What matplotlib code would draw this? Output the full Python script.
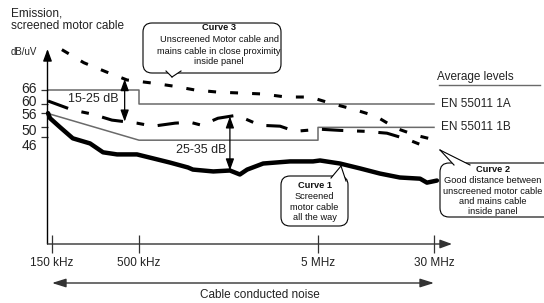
import numpy as np
import matplotlib
matplotlib.use("Agg")
import matplotlib.pyplot as plt
from matplotlib.patches import FancyBboxPatch, Polygon
from matplotlib.lines import Line2D
from matplotlib.transforms import IdentityTransform

plt.rcParams['font.family'] = ['Liberation Sans', 'DejaVu Sans']

# ---- data (frequency in MHz, level in dB/uV) ----
tick_mhz = [0.15, 0.5, 5, 30]
tick_labels = ['150 kHz', '500 kHz', '5 MHz', '30 MHz']
db_ticks = [66, 60, 56, 50, 46]

curve1_mhz = [0.142, 0.146, 0.168, 0.200, 0.254, 0.304, 0.369, 0.486, 0.599, 0.745,
              0.939, 1.00, 1.30, 1.61, 1.83, 2.01, 2.47, 3.49, 4.69, 5.16,
              7.02, 9.57, 13.0, 17.7, 24.2, 26.9, 31.4]
curve1_db = [56.1, 53.9, 50.0, 45.3, 43.1, 39.3, 38.4, 38.4, 36.7, 34.9,
             32.8, 31.9, 31.1, 31.5, 29.8, 31.9, 34.5, 35.4, 35.4, 35.8,
             34.5, 32.4, 30.2, 28.5, 28.0, 26.3, 27.2]

curve2_mhz = [0.142, 0.200, 0.261, 0.344, 0.486, 0.599, 0.795, 0.964, 1.12, 1.38,
              1.76, 2.37, 3.07, 3.72, 5.16, 7.02, 10.3, 14.5, 19.8, 28.2]
curve2_db = [61.3, 57.4, 55.7, 53.1, 51.8, 50.5, 51.8, 52.2, 50.9, 53.9,
             55.2, 50.9, 50.5, 48.3, 49.2, 48.7, 48.3, 47.5, 44.9, 41.0]

curve3_mhz = [0.172, 0.233, 0.317, 0.424, 0.591, 0.774, 1.03, 1.38, 1.86, 2.46,
              3.31, 4.51, 6.02, 8.59, 12.2, 16.7, 22.7, 31.4]
curve3_db = [83.3, 77.7, 73.8, 70.3, 69.0, 67.7, 66.0, 65.1, 64.7, 64.3,
             63.0, 63.0, 60.4, 57.8, 54.8, 49.6, 46.6, 44.4]

en_1a_mhz = [0.141, 0.5, 0.5, 30]
en_1a_db = [66, 66, 60, 60]
en_1b_mhz = [0.141, 0.5, 5, 5, 30]
en_1b_db = [56, 44.5, 44.5, 50, 50]

gap_a_mhz = 0.41   # 15-25 dB marker
gap_b_mhz = 1.61   # 25-35 dB marker

# ---- schematic frequency axis (not a true log scale) ----
W, H = 544, 303
tick_px = [52, 139, 318, 434]
la = np.log10(tick_mhz)
pa = np.array(tick_px, float)
la_ext = np.r_[la[0] - 3, la, la[-1] + 3]
pa_ext = np.r_[pa[0] - 3 * (pa[1] - pa[0]) / (la[1] - la[0]), pa,
               pa[-1] + 3 * (pa[-1] - pa[-2]) / (la[-1] - la[-2])]


def fwd(f):
    with np.errstate(divide='ignore', invalid='ignore'):
        lf = np.log10(np.asarray(f, float))
    return np.interp(lf, la_ext, pa_ext)


def inv(p):
    return 10 ** np.interp(np.asarray(p, float), pa_ext, la_ext)


fig = plt.figure(figsize=(W / 100, H / 100), dpi=100)
ax = fig.add_axes([47.5 / W, 1 - 244 / H, (452 - 47.5) / W, (244 - 49) / H])
ax.set_xscale('function', functions=(fwd, inv))
ax.set_xlim(inv(47.5), inv(452))
ax.set_ylim(0, (244 - 49) / 2.333)
for s in ax.spines.values():
    s.set_visible(False)

# axes with arrow heads
ax.annotate('', xy=(0, 1), xytext=(0, 0), xycoords='axes fraction',
            arrowprops=dict(arrowstyle='-|>,head_length=0.6,head_width=0.22',
                            color='black', lw=1.0, shrinkA=0, shrinkB=0, mutation_scale=12))
ax.annotate('', xy=(1, 0), xytext=(0, 0), xycoords='axes fraction',
            arrowprops=dict(arrowstyle='-|>,head_length=0.6,head_width=0.22',
                            color='#333333', lw=1.0, shrinkA=0, shrinkB=0, mutation_scale=12))

ax.set_xticks(tick_mhz)
ax.set_xticklabels(tick_labels)
ax.tick_params(axis='x', direction='inout', length=13, width=0.9, color='#333333',
               pad=2.5, labelsize=8.5, labelcolor='#222222')
ax.set_yticks(db_ticks)
ax.set_yticklabels([])
ax.tick_params(axis='y', direction='out', length=5, width=0.9, color='#333333')
label_shift = [0.7, 1.4, -1.4, -2.6, -7]
for v, dy in zip(db_ticks, label_shift):
    ax.annotate(str(v), xy=(0, v), xycoords=('axes fraction', 'data'),
                xytext=(-7.5, dy), textcoords='offset points',
                ha='right', va='center', fontsize=10, color='#222222')

# limit lines
grey = '#6a6a6a'
ax.plot(en_1a_mhz, en_1a_db, color=grey, lw=1.1, clip_on=False)
ax.plot(en_1b_mhz, en_1b_db, color=grey, lw=1.1, clip_on=False)
ax.annotate('EN 55011 1A', xy=(en_1a_mhz[-1], en_1a_db[-1]), xytext=(5, 0),
            textcoords='offset points', va='center', fontsize=8.5, color='#222222')
ax.annotate('EN 55011 1B', xy=(en_1b_mhz[-1], en_1b_db[-1]), xytext=(5, 0),
            textcoords='offset points', va='center', fontsize=8.5, color='#222222')

# curves
ax.plot(curve1_mhz, curve1_db, color='black', lw=3.2, solid_joinstyle='round',
        solid_capstyle='round', clip_on=False)
ax.plot(curve2_mhz, curve2_db, color='black', lw=2.2, dashes=(7, 4.5, 2.5, 4.5),
        clip_on=False)
ax.plot(curve3_mhz, curve3_db, color='black', lw=2.2, dashes=(2.6, 4.6),
        clip_on=False)

# gap markers
lg3 = np.log10(curve3_mhz)
lg2 = np.log10(curve2_mhz)
lg1 = np.log10(curve1_mhz)
a_top = np.interp(np.log10(gap_a_mhz), lg3, curve3_db)
a_bot = np.interp(np.log10(gap_a_mhz), lg2, curve2_db)
b_top = np.interp(np.log10(gap_b_mhz), lg2, curve2_db)
b_bot = np.interp(np.log10(gap_b_mhz), lg1, curve1_db)
dbl = dict(arrowstyle='<|-|>,head_length=0.7,head_width=0.25', color='black', lw=0.9,
           shrinkA=0, shrinkB=0, mutation_scale=10)
ax.annotate('', xy=(gap_a_mhz, a_bot), xytext=(gap_a_mhz, a_top), arrowprops=dbl)
ax.annotate('', xy=(gap_b_mhz, b_bot), xytext=(gap_b_mhz, b_top), arrowprops=dbl)


def px(x, y):
    return x / W, 1 - y / H


fig.text(*px(93, 99), '15-25 dB', ha='center', va='center', fontsize=9, color='#222222')
fig.text(*px(201, 150), '25-35 dB', ha='center', va='center', fontsize=9, color='#222222')

# bottom span arrow
ax.annotate('', xy=(tick_mhz[-1], -0.2), xytext=(tick_mhz[0], -0.2),
            xycoords=ax.get_xaxis_transform(),
            arrowprops=dict(arrowstyle='<|-|>,head_length=0.7,head_width=0.22',
                            color='#333333', lw=1.0, shrinkA=0, shrinkB=0, mutation_scale=12))
fig.text(*px(260, 295), 'Cable conducted noise', ha='center', va='center',
         fontsize=8.5, color='#222222')

# titles
fig.text(*px(11, 13), 'Emission,', ha='left', va='center', fontsize=8.5, color='#222222')
fig.text(*px(11, 26), 'screened motor cable', ha='left', va='center', fontsize=8.5,
         color='#222222')
fig.text(*px(11, 52), 'dB/uV', ha='left', va='center', fontsize=7, color='#222222')
fig.text(*px(437, 77), 'Average levels', ha='left', va='center', fontsize=8.5,
         color='#222222')
fig.add_artist(Line2D([439 / W, 540 / W], [1 - 85 / H, 1 - 85 / H],
                      transform=fig.transFigure, color=grey, lw=1.0))

# callout bubbles
ident = IdentityTransform()


def bubble(box, tail, lines, ys, cx, r=9):
    x0, y0, x1, y1 = box
    fig.add_artist(FancyBboxPatch((x0, H - y1), x1 - x0, y1 - y0,
                                  boxstyle=f'round,pad=0,rounding_size={r}',
                                  transform=ident, fc='white', ec='black', lw=0.8))
    (bx0, by0), (tx, ty), (bx1, by1) = tail
    fig.add_artist(Polygon([(bx0, H - by0), (tx, H - ty), (bx1, H - by1)],
                           closed=True, transform=ident, fc='white', ec='none'))
    for bx, by in [(bx0, by0), (bx1, by1)]:
        fig.add_artist(Line2D([bx, tx], [H - by, H - ty], transform=ident,
                              color='black', lw=0.8))
    for i, (t, y) in enumerate(zip(lines, ys)):
        fig.text(cx / W, 1 - y / H, t, ha='center', va='center', fontsize=6.7,
                 fontweight='bold' if i == 0 else 'normal', color='#111111')


bubble((143, 23, 281, 73), [(166, 71), (172, 77), (181, 71)],
       ['Curve 3', 'Unscreened Motor cable and', 'mains cable in close proximity',
        'inside panel'], [28, 40, 51, 62], 219)
bubble((281, 176, 348, 226), [(331, 178), (341, 166), (346, 181)],
       ['Curve 1', 'Screened', 'motor cable', 'all the way'],
       [186, 196.5, 207, 217.5], 314.5)
bubble((440, 163, 570, 217), [(454, 165), (440, 150), (470, 165)],
       ['Curve 2', 'Good distance between', 'unscreened motor cable',
        'and mains cable', 'inside panel'], [170, 180.5, 191, 201.5, 212], 493)

fig.savefig('out.png', dpi=100)
